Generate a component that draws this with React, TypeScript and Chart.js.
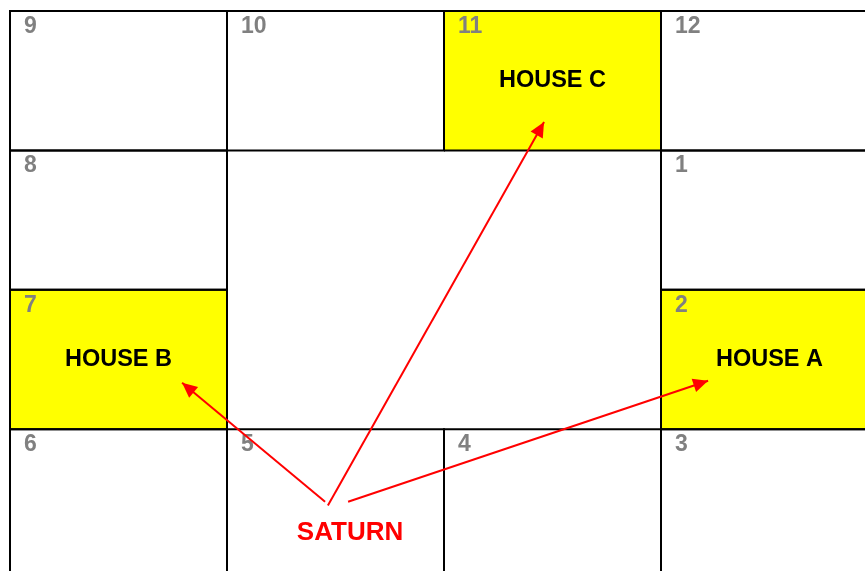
import React, { useEffect, useRef } from "react";
import { Chart, registerables } from "chart.js";

Chart.register(...registerables);

// Houses of the chart (South Indian layout), column/row in grid units
const houseNumbers = [1, 2, 3, 4, 5, 6, 7, 8, 9, 10, 11, 12];
const houseCols = [3, 3, 3, 2, 1, 0, 0, 0, 0, 1, 2, 3];
const houseRows = [1, 2, 3, 3, 3, 3, 2, 1, 0, 0, 0, 0];

// Highlighted houses and their labels
const highlightHouses = [2, 7, 11];
const highlightLabels = ["HOUSE A", "HOUSE B", "HOUSE C"];

// Planet label and its position (grid units)
const planetName = "SATURN";
const planetX = [1.567];
const planetY = [3.74];

// Arrows from the planet to the highlighted houses (grid units)
const arrowTargets = ["HOUSE A", "HOUSE B", "HOUSE C"];
const arrowFromX = [1.558, 1.452, 1.465];
const arrowFromY = [3.52, 3.52, 3.548];
const arrowToX = [3.217, 0.793, 2.461];
const arrowToY = [2.652, 2.667, 0.796];

const FONT = "'Liberation Sans', Arial, Helvetica, sans-serif";

const chartPlugin = {
  id: "housesGrid",
  beforeDatasetsDraw(chart: any) {
    const ctx = chart.ctx;
    const xs = chart.scales.x;
    const ys = chart.scales.y;
    ctx.save();
    houseNumbers.forEach((num, i) => {
      const x0 = xs.getPixelForValue(houseCols[i]);
      const x1 = xs.getPixelForValue(houseCols[i] + 1);
      const y0 = ys.getPixelForValue(houseRows[i]);
      const y1 = ys.getPixelForValue(houseRows[i] + 1);
      if (highlightHouses.indexOf(num) >= 0) {
        ctx.fillStyle = "#ffff00";
        ctx.fillRect(x0, y0, x1 - x0, y1 - y0);
      }
    });
    houseNumbers.forEach((num, i) => {
      const x0 = xs.getPixelForValue(houseCols[i]);
      const x1 = xs.getPixelForValue(houseCols[i] + 1);
      const y0 = ys.getPixelForValue(houseRows[i]);
      const y1 = ys.getPixelForValue(houseRows[i] + 1);
      ctx.strokeStyle = "#000000";
      ctx.lineWidth = 2;
      ctx.beginPath();
      ctx.moveTo(x0, y1 + (houseRows[i] === 3 ? 10 : 0));
      ctx.lineTo(x0, y0);
      ctx.lineTo(x1, y0);
      ctx.lineTo(x1, y1 + (houseRows[i] === 3 ? 10 : 0));
      if (houseRows[i] < 3) ctx.lineTo(x0, y1);
      ctx.stroke();
      ctx.fillStyle = "#808080";
      ctx.font = `bold 23px ${FONT}`;
      ctx.textAlign = "left";
      ctx.textBaseline = "alphabetic";
      ctx.fillText(String(num), x0 + 14, y0 + 22);
      const hi = highlightHouses.indexOf(num);
      if (hi >= 0) {
        ctx.fillStyle = "#000000";
        ctx.font = `bold 23.5px ${FONT}`;
        ctx.textAlign = "center";
        ctx.textBaseline = "middle";
        ctx.fillText(highlightLabels[hi], (x0 + x1) / 2, (y0 + y1) / 2);
      }
    });
    ctx.restore();
  },
  afterDatasetsDraw(chart: any) {
    const ctx = chart.ctx;
    const xs = chart.scales.x;
    const ys = chart.scales.y;
    ctx.save();
    chart.data.datasets.forEach((ds: any, di: number) => {
      const meta = chart.getDatasetMeta(di);
      const pts = meta.data;
      if (pts.length < 2) return;
      const a = pts[0];
      const b = pts[1];
      const ang = Math.atan2(b.y - a.y, b.x - a.x);
      const len = 15;
      const hw = 7;
      const bx = b.x - len * Math.cos(ang);
      const by = b.y - len * Math.sin(ang);
      ctx.fillStyle = "#ff0000";
      ctx.beginPath();
      ctx.moveTo(b.x, b.y);
      ctx.lineTo(bx + hw * Math.sin(ang), by - hw * Math.cos(ang));
      ctx.lineTo(bx - hw * Math.sin(ang), by + hw * Math.cos(ang));
      ctx.closePath();
      ctx.fill();
    });
    ctx.fillStyle = "#ff0000";
    ctx.font = `bold 26px ${FONT}`;
    ctx.textAlign = "center";
    ctx.textBaseline = "middle";
    ctx.fillText(planetName, xs.getPixelForValue(planetX[0]), ys.getPixelForValue(planetY[0]));
    ctx.restore();
  },
};

export default function App() {
  const ref = useRef<HTMLCanvasElement | null>(null);
  useEffect(() => {
    if (!ref.current) return;
    const chart = new Chart(ref.current, {
      type: "scatter",
      data: {
        datasets: arrowTargets.map((t, i) => ({
          label: t,
          data: [
            { x: arrowFromX[i], y: arrowFromY[i] },
            { x: arrowToX[i], y: arrowToY[i] },
          ],
          showLine: true,
          borderColor: "#ff0000",
          borderWidth: 2,
          pointRadius: 0,
          fill: false,
        })),
      },
      options: {
        animation: false,
        responsive: false,
        layout: { padding: 0 },
        plugins: { legend: { display: false }, tooltip: { enabled: false } },
        scales: {
          x: { type: "linear", display: false, min: -10 / 217, max: 855 / 217 },
          y: { type: "linear", display: false, reverse: true, min: -11 / 139.4, max: 560 / 139.4 },
        },
      },
      plugins: [chartPlugin],
    } as any);
    return () => chart.destroy();
  }, []);
  return (
    <div style={{ position: "fixed", left: 0, top: 0, width: 865, height: 571, background: "#fff" }}>
      <canvas ref={ref} width={865} height={571} style={{ display: "block" }} />
    </div>
  );
}
